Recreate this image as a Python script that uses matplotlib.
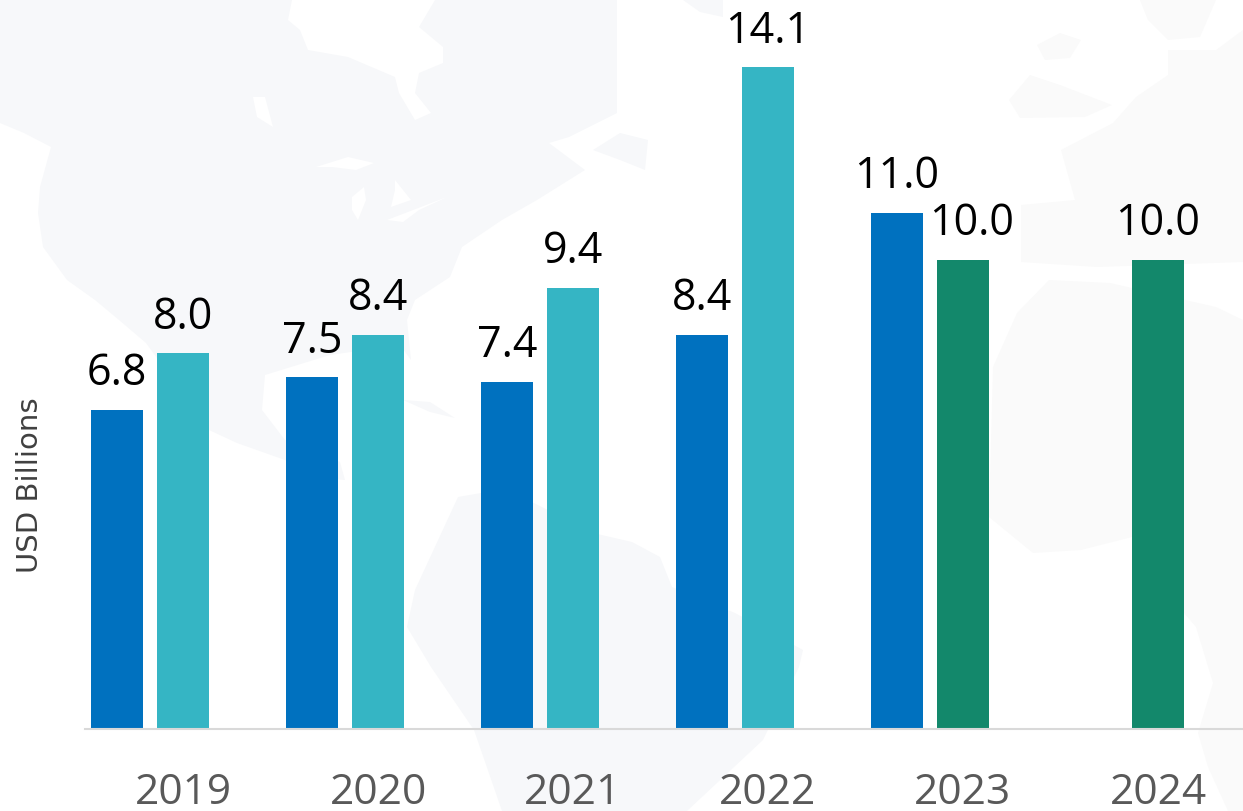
import matplotlib

matplotlib.use("Agg")
import matplotlib.pyplot as plt
from matplotlib.patches import Polygon

plt.rcParams["font.family"] = ["Open Sans", "DejaVu Sans"]

# -------- Chart data --------
years = ["2019", "2020", "2021", "2022", "2023", "2024"]
first_values = [6.8, 7.5, 7.4, 8.4, 11.0, None]
second_values = [8.0, 8.4, 9.4, 14.1, 10.0, 10.0]
second_colors = ["#35b5c4", "#35b5c4", "#35b5c4", "#35b5c4", "#13886b", "#13886b"]
first_color = "#0071bf"
# the 2023 label is nudged right so it clears the taller bar beside it
second_label_shift = [0, 0, 0, 0, 5.8, 0]

# -------- Backdrop map outlines, in figure pixels --------
north_america = [
    (0, 0), (617, 0), (617, 113), (569, 137), (549, 143), (585, 170), (537, 200),
    (502, 220), (462, 247), (450, 277), (415, 300), (407, 320), (411, 360),
    (400, 345), (330, 355), (265, 375), (262, 410), (285, 440), (340, 462),
    (345, 480), (320, 478), (285, 460), (237, 443), (209, 430), (146, 343),
    (119, 320), (95, 300), (67, 280), (43, 247), (38, 213), (40, 187), (51, 147),
    (24, 133), (0, 123),
]
hudson_bay = [
    (292, 0), (435, 0), (419, 27), (443, 47), (443, 63), (419, 73), (415, 93),
    (431, 113), (415, 120), (399, 93), (395, 77), (348, 57), (308, 50), (300, 30),
    (288, 20),
]
lakes = [
    [(316, 167), (348, 157), (374, 163), (356, 170), (332, 167)],
    [(352, 197), (364, 187), (366, 200), (358, 220), (352, 210)],
    [(395, 180), (411, 200), (391, 207), (395, 190)],
    [(387, 220), (447, 197), (419, 210), (403, 222)],
    [(253, 97), (265, 97), (273, 127), (257, 117)],
]
cuba = [(403, 400), (430, 402), (455, 418), (430, 412)]
newfoundland = [(593, 150), (620, 133), (648, 140), (645, 170), (620, 160)]
greenland_tip = [(683, 0), (723, 0), (723, 17), (700, 12)]
iceland = [(1037, 45), (1060, 33), (1081, 40), (1070, 58), (1045, 60)]
britain = [(1009, 100), (1030, 75), (1060, 85), (1112, 105), (1085, 117), (1020, 118)]
scandinavia = [(1140, 0), (1216, 0), (1200, 37), (1168, 40), (1148, 20)]
europe = [
    (1243, 30), (1243, 262), (1097, 267), (1021, 262), (1021, 205), (1075, 200),
    (1061, 150), (1113, 123), (1136, 97), (1168, 75), (1168, 50), (1216, 50),
]
africa = [
    (1049, 280), (1110, 283), (1216, 307), (1243, 320), (1243, 811), (1228, 811),
    (1208, 767), (1198, 733), (1213, 683), (1196, 627), (1184, 613), (1132, 537),
    (1081, 550), (1033, 553), (989, 517), (993, 367), (1017, 313),
]
south_america = [
    (458, 497), (481, 493), (534, 503), (593, 533), (632, 542), (660, 557),
    (672, 587), (735, 613), (803, 650), (799, 667), (763, 740), (687, 811),
    (502, 811), (474, 730), (431, 667), (407, 627), (415, 590),
]

fig = plt.figure(figsize=(12.43, 8.11), dpi=100, facecolor="white")

# backdrop sits in its own full-figure axes
bg = fig.add_axes([0, 0, 1, 1], zorder=0)
bg.set_xlim(0, 1243)
bg.set_ylim(811, 0)
bg.axis("off")
for shape in [north_america, cuba, newfoundland, greenland_tip]:
    bg.add_patch(Polygon(shape, fc="#f7f8fa", ec="none"))
for shape in [hudson_bay] + lakes:
    bg.add_patch(Polygon(shape, fc="white", ec="none"))
bg.add_patch(Polygon(south_america, fc="#f7f8fa", ec="none"))
for shape in [iceland, britain, scandinavia, europe, africa]:
    bg.add_patch(Polygon(shape, fc="#fafafa", ec="none"))

# -------- Bars --------
ax = fig.add_axes([85 / 1243, 1 - 729 / 811, 1158 / 1243, 729 / 811], zorder=1)
ax.patch.set_alpha(0)

bar_width = 52 / 195
offset = 66 / 195
for i, year in enumerate(years):
    if first_values[i] is not None:
        ax.bar(i - offset, first_values[i], bar_width, color=first_color)
        ax.annotate(
            f"{first_values[i]:.1f}", (i - offset, first_values[i]),
            xytext=(0, 17.5), textcoords="offset points",
            ha="center", va="baseline", fontsize=31, color="black",
            annotation_clip=False,
        )
    ax.bar(i, second_values[i], bar_width, color=second_colors[i])
    ax.annotate(
        f"{second_values[i]:.1f}", (i, second_values[i]),
        xytext=(second_label_shift[i], 17.5), textcoords="offset points",
        ha="center", va="baseline", fontsize=31, color="black",
        annotation_clip=False,
    )

ax.set_xlim(-98 / 195, 1060 / 195)
ax.set_ylim(0, 729 / 46.95)
ax.set_xticks(range(len(years)))
ax.set_xticklabels(years, fontsize=30.5, color="#595959")
ax.tick_params(axis="x", length=0, pad=31)
ax.set_yticks([])
for side in ["top", "left", "right"]:
    ax.spines[side].set_visible(False)
ax.spines["bottom"].set_color("#d9d9d9")
ax.spines["bottom"].set_linewidth(1.5)

fig.text(
    30 / 1243, 1 - 485 / 811, "USD Billions", rotation=90, ha="center", va="center",
    fontsize=21, color="#404040", family="DejaVu Sans",
)

fig.savefig("out.png", dpi=100)
